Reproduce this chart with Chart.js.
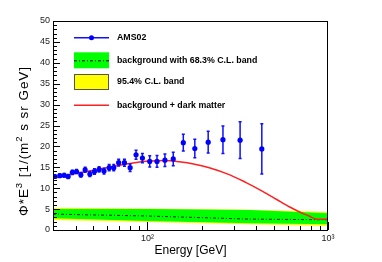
<!DOCTYPE html>
<html><head><meta charset="utf-8">
<script src="https://cdn.jsdelivr.net/npm/chart.js@4/dist/chart.umd.min.js"></script>
<style>html,body{margin:0;padding:0;background:#fff}canvas{display:block}</style>
</head><body>
<canvas id="c" width="382" height="262"></canvas>
<script>
// AMS02 data points
const energy = [30.7, 32.7, 34.6, 36.4, 38.4, 40.5, 42.8, 45.2, 48.0, 50.9, 54.0, 57.5, 61.4, 65.1, 69.3, 74.6, 80.2, 86.5, 93.8, 103, 113, 125, 139, 158, 183, 217, 262, 326, 430];
const flux = [12.8, 13.0, 13.1, 12.8, 13.8, 14.0, 13.2, 14.4, 13.4, 14.0, 14.5, 14.1, 14.9, 14.9, 16.1, 16.1, 14.9, 18.0, 17.2, 16.4, 16.4, 16.7, 17.0, 20.9, 19.5, 21.0, 21.6, 21.5, 19.4];
const fluxErr = [0.4, 0.4, 0.4, 0.45, 0.5, 0.5, 0.55, 0.6, 0.6, 0.65, 0.65, 0.7, 0.75, 0.75, 0.8, 0.85, 0.9, 1.1, 1.1, 1.35, 1.4, 1.5, 1.6, 2.0, 2.2, 2.6, 3.3, 4.4, 6.0];
// background + dark matter model
const modelEnergy = [30, 40, 55, 70, 85, 103, 125, 150, 180, 220, 286, 350, 437, 520, 614, 697, 780, 865, 930, 1000];
const modelFlux = [12.3, 13.5, 14.6, 15.5, 16.1, 16.5, 16.6, 16.3, 15.8, 14.9, 13.2, 11.4, 9.2, 7.3, 5.5, 4.3, 3.4, 2.6, 2.55, 2.55];
// background bands
const bandEnergy = [30, 100, 370, 1000];
const band95Upper = [5.3, 5.15, 4.85, 4.3];
const band68Upper = [5.0, 5.0, 4.8, 4.0];
const bgCentral = [3.8, 3.35, 2.6, 2.45];
const band68Lower = [2.8, 2.15, 1.6, 1.35];
const band95Lower = [2.4, 1.9, 1.4, 0.95];
// axes
const xMin = 30, xMax = 1000;
const yMin = 0, yMax = 50, yStep = 5;
const xTickLabels = {100: '10²', 1000: '10³'};
const xMinorTicks = [30, 40, 50, 60, 70, 80, 90, 200, 300, 400, 500, 600, 700, 800, 900];
const xMajorTicks = [100, 1000];
const legendLabels = ['AMS02', 'background with 68.3% C.L. band', '95.4% C.L. band', 'background + dark matter'];

const pts = (xs, ys) => xs.map((x, i) => ({x, y: ys[i]}));
const FONT = "'Liberation Sans', Arial, Helvetica, sans-serif";

const rootPlugin = {
  id: 'rootStyle',
  beforeDatasetDraw(chart, args) {
    if (args.index !== 0) return;
    const ctx = chart.ctx, xs = chart.scales.x, ys = chart.scales.y;
    ctx.save();
    ctx.strokeStyle = '#1010ff';
    ctx.lineWidth = 1.5;
    energy.forEach((e, i) => {
      const px = xs.getPixelForValue(e);
      const top = ys.getPixelForValue(flux[i] + fluxErr[i]);
      const bot = ys.getPixelForValue(flux[i] - fluxErr[i]);
      ctx.beginPath();
      ctx.moveTo(px, top); ctx.lineTo(px, bot);
      ctx.moveTo(px - 1.5, top); ctx.lineTo(px + 1.5, top);
      ctx.moveTo(px - 1.5, bot); ctx.lineTo(px + 1.5, bot);
      ctx.stroke();
    });
    ctx.restore();
  },
  afterDraw(chart) {
    const ctx = chart.ctx, a = chart.chartArea, xs = chart.scales.x, ys = chart.scales.y;
    ctx.save();
    // frame
    ctx.strokeStyle = '#000';
    ctx.lineWidth = 1;
    ctx.strokeRect(Math.round(a.left) + 0.5, Math.round(a.top) + 0.5, Math.round(a.right - a.left) - 1, Math.round(a.bottom - a.top));
    // y ticks (inward)
    ctx.beginPath();
    for (let v = yMin; v <= yMax; v += 1) {
      const py = Math.round(ys.getPixelForValue(v)) + 0.5;
      const len = v % yStep === 0 ? 7 : 4;
      ctx.moveTo(a.left, py); ctx.lineTo(a.left + len, py);
    }
    // x ticks (inward)
    xMinorTicks.forEach(v => {
      const px = Math.round(xs.getPixelForValue(v)) + 0.5;
      ctx.moveTo(px, a.bottom); ctx.lineTo(px, a.bottom - 4);
    });
    xMajorTicks.forEach(v => {
      const px = Math.round(xs.getPixelForValue(v)) + 0.5;
      ctx.moveTo(px, a.bottom); ctx.lineTo(px, a.bottom - 8);
    });
    ctx.stroke();

    // y title (ROOT-like, with superscripts)
    const segs = [['Φ*E', 0], ['3', 1], [' [1/(m', 0], ['2', 1], [' s sr GeV]', 0]];
    const fMain = '13.5px ' + FONT, fSup = '9.5px ' + FONT;
    const target = 150;
    let w = 0, nCh = 0;
    segs.forEach(s => {
      ctx.font = s[1] ? fSup : fMain;
      w += ctx.measureText(s[0]).width;
      nCh += [...s[0]].length;
    });
    const extra = Math.max(0, (target - w) / nCh);
    ctx.translate(28, 141);
    ctx.rotate(-Math.PI / 2);
    ctx.fillStyle = '#000';
    ctx.textBaseline = 'alphabetic';
    ctx.textAlign = 'left';
    let cx = -target / 2;
    segs.forEach(s => {
      ctx.font = s[1] ? fSup : fMain;
      for (const ch of s[0]) {
        ctx.fillText(ch, cx, s[1] ? -6.5 : 0);
        cx += ctx.measureText(ch).width + extra;
      }
    });
    ctx.setTransform(1, 0, 0, 1, 0, 0);

    // legend
    const lx0 = 74, lx1 = 109, tx = 117;
    const rows = [37.7, 60.3, 82, 105.3];
    ctx.font = 'bold 8.8px ' + FONT;
    ctx.textBaseline = 'middle';
    ctx.fillStyle = '#000';
    legendLabels.forEach((t, i) => ctx.fillText(t, tx, rows[i]));
    // row 1: AMS02
    ctx.strokeStyle = '#1010ff'; ctx.lineWidth = 1.5;
    ctx.beginPath(); ctx.moveTo(lx0, rows[0]); ctx.lineTo(lx1, rows[0]); ctx.stroke();
    ctx.fillStyle = '#0000ff';
    ctx.beginPath(); ctx.arc((lx0 + lx1) / 2, rows[0], 2.5, 0, Math.PI * 2); ctx.fill();
    // row 2: green band
    ctx.fillStyle = '#00ff00';
    ctx.fillRect(lx0, rows[1] - 8, lx1 - lx0, 16);
    ctx.strokeStyle = '#000'; ctx.lineWidth = 1; ctx.setLineDash([3, 2, 1, 2]);
    ctx.beginPath(); ctx.moveTo(lx0, rows[1] + 0.5); ctx.lineTo(lx1, rows[1] + 0.5); ctx.stroke();
    ctx.setLineDash([]);
    // row 3: yellow band
    ctx.fillStyle = '#ffff00';
    ctx.fillRect(lx0, rows[2] - 8, lx1 - lx0, 16);
    ctx.strokeStyle = '#555'; ctx.lineWidth = 1;
    ctx.strokeRect(lx0 + 0.5, rows[2] - 7.5, lx1 - lx0 - 1, 15);
    // row 4: red line
    ctx.strokeStyle = '#ff2020'; ctx.lineWidth = 1.5;
    ctx.beginPath(); ctx.moveTo(lx0, rows[3]); ctx.lineTo(lx1, rows[3]); ctx.stroke();
    ctx.restore();
  }
};

new Chart(document.getElementById('c'), {
  type: 'line',
  data: {
    datasets: [
      { label: legendLabels[0], data: pts(energy, flux), showLine: false, pointRadius: 2.6, pointBackgroundColor: '#0000ff', pointBorderWidth: 0, borderColor: '#0000ff' },
      { label: legendLabels[3], data: pts(modelEnergy, modelFlux), borderColor: '#ff2020', borderWidth: 1.5, pointRadius: 0, cubicInterpolationMode: 'monotone', fill: false },
      { label: 'central', data: pts(bandEnergy, bgCentral), borderColor: 'rgba(0,0,0,0.85)', borderWidth: 1, borderDash: [3, 2, 1, 2], pointRadius: 0, fill: false },
      { label: legendLabels[1], data: pts(bandEnergy, band68Upper), borderWidth: 0, borderColor: 'rgba(0,0,0,0)', backgroundColor: '#00ff00', pointRadius: 0, fill: 4 },
      { label: '68 low', data: pts(bandEnergy, band68Lower), borderWidth: 0, borderColor: 'rgba(0,0,0,0)', pointRadius: 0, fill: false },
      { label: legendLabels[2], data: pts(bandEnergy, band95Upper), borderWidth: 0, borderColor: 'rgba(0,0,0,0)', backgroundColor: '#ffff00', pointRadius: 0, fill: 6 },
      { label: '95 low', data: pts(bandEnergy, band95Lower), borderWidth: 0, borderColor: 'rgba(0,0,0,0)', pointRadius: 0, fill: false }
    ]
  },
  options: {
    responsive: false,
    animation: false,
    devicePixelRatio: 1,
    layout: { padding: { left: 0, right: 54, top: 21, bottom: 0 } },
    plugins: { legend: { display: false }, tooltip: { enabled: false } },
    scales: {
      x: {
        type: 'logarithmic', min: xMin, max: xMax, position: 'bottom',
        grid: { display: false, drawTicks: false }, border: { display: false },
        ticks: { autoSkip: false, maxRotation: 0, padding: 3, color: '#222', font: { size: 9, family: FONT },
          callback: v => xTickLabels[v] || '' },
        title: { display: true, text: 'Energy [GeV]', color: '#000', font: { size: 12, family: FONT }, padding: { top: 0, bottom: 4 } },
        afterFit: s => { s.height = 32; }
      },
      y: {
        type: 'linear', min: yMin, max: yMax,
        grid: { display: false, drawTicks: false }, border: { display: false },
        ticks: { stepSize: yStep, padding: 3, color: '#222', font: { size: 9, family: FONT } },
        afterFit: s => { s.width = 53; }
      }
    }
  },
  plugins: [rootPlugin]
});
</script>
</body></html>
